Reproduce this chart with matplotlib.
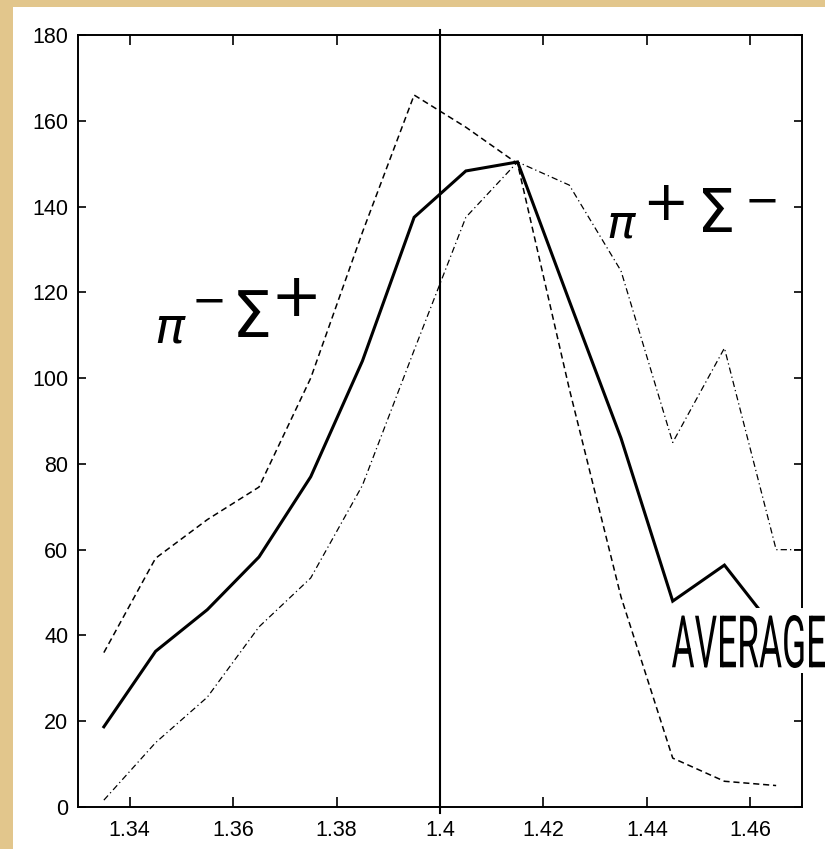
import matplotlib
matplotlib.use("Agg")
import matplotlib.pyplot as plt
from matplotlib.patches import Rectangle, PathPatch
from matplotlib.textpath import TextPath
from matplotlib.font_manager import FontProperties
from matplotlib.transforms import Affine2D, IdentityTransform

# energies (GeV) and cross sections
energy = [1.335, 1.345, 1.355, 1.365, 1.375, 1.385, 1.395,
          1.405, 1.415, 1.425, 1.435, 1.445, 1.455, 1.465]
average = [18.7, 36.3, 46, 58.3, 77, 104, 137.5,
           148.3, 150.4, 118, 86, 48, 56.4, 41]
pim_sigp = [36, 58, 67, 74.6, 100, 134, 166,
            158.5, 150, 97.5, 49, 11.4, 6, 5]
# pi+ Sigma- runs one step past the frame (flat at 60)
energy_pp = energy + [1.475]
pip_sigm = [1.6, 15, 25.6, 42, 53.4, 75, 106.5,
            137.5, 150.4, 145, 125, 85, 107, 60, 60]
threshold = 1.4

x_ticks = [1.34, 1.36, 1.38, 1.4, 1.42, 1.44, 1.46]
x_labels = ["1.34", "1.36", "1.38", "1.4", "1.42", "1.44", "1.46"]
y_ticks = [0, 20, 40, 60, 80, 100, 120, 140, 160, 180]

W, H = 825, 849


def px(x, y):
    # pixel position (from top-left) -> figure fraction
    return x / W, 1 - y / H


fig = plt.figure(figsize=(W / 100, H / 100), dpi=100, facecolor="#e2c68c")
# white page on the parchment
fig.add_artist(Rectangle(px(13, H), (W - 13) / W, (H - 7) / H,
                         transform=fig.transFigure, facecolor="white",
                         edgecolor="none", zorder=-1))

ax = fig.add_axes([78 / W, 1 - 807 / H, (802 - 78) / W, (807 - 35) / H])
ax.set_facecolor("white")

ax.plot(energy, average, color="black", lw=2.2, solid_joinstyle="miter")
ax.plot(energy, pim_sigp, color="black", lw=1.1, dashes=(4, 2.5))
ax.plot(energy_pp, pip_sigm, color="black", lw=0.9, dashes=(5, 2.5, 1, 2.5))
ax.axvline(threshold, ymin=-0.008, ymax=1.006, color="black", lw=1.5,
           clip_on=False)

ax.set_xlim(1.33, 1.47)
ax.set_ylim(0, 180)
ax.set_xticks(x_ticks)
ax.set_xticklabels(x_labels)
ax.set_yticks(y_ticks)
for s in ax.spines.values():
    s.set_linewidth(1.4)
ax.tick_params(axis="x", direction="in", length=7.5, width=1.2,
               top=True, pad=9)
ax.tick_params(axis="y", direction="in", length=6, width=1.2,
               right=True, pad=7)
for lab in ax.get_xticklabels() + ax.get_yticklabels():
    lab.set_family("Liberation Sans")
    lab.set_fontsize(15.5)

# channel labels, built piece by piece (superscripts are full size)
def piece(s, x, y, size):
    fig.text(*px(x, y), s, fontsize=size, ha="center", va="center",
             family="DejaVu Sans", color="black")

piece(r"$\pi$", 170, 328, 36)
piece("\u2212", 209, 302, 30)
piece("\u03a3", 252, 319, 46)
piece("+", 296, 299, 44)

piece(r"$\pi$", 622, 225, 34)
piece("+", 665, 205, 40)
piece("\u03a3", 716, 216, 44)
piece("\u2212", 762, 202, 30)

# AVERAGE: very condensed lettering, on a white patch that hides the frame
fig.add_artist(Rectangle(px(667, 673), (W - 667) / W, (673 - 608) / H,
                         transform=fig.transFigure, facecolor="white",
                         edgecolor="none", zorder=2))
tp = TextPath((0, 0), "AVERAGE", size=50,
              prop=FontProperties(family="Roboto", weight="normal"))
ext = tp.get_extents()
box_x0, box_x1, box_top, box_bot = 672, 825, 615, 668
tr = (Affine2D().translate(-ext.x0, -ext.y0)
      .scale((box_x1 - box_x0) / ext.width, (box_bot - box_top) / ext.height)
      .translate(box_x0, H - box_bot))
fig.add_artist(PathPatch(tp, transform=tr + IdentityTransform(),
                         facecolor="black", edgecolor="none", zorder=3))

fig.savefig("out.png", dpi=100, facecolor=fig.get_facecolor())
